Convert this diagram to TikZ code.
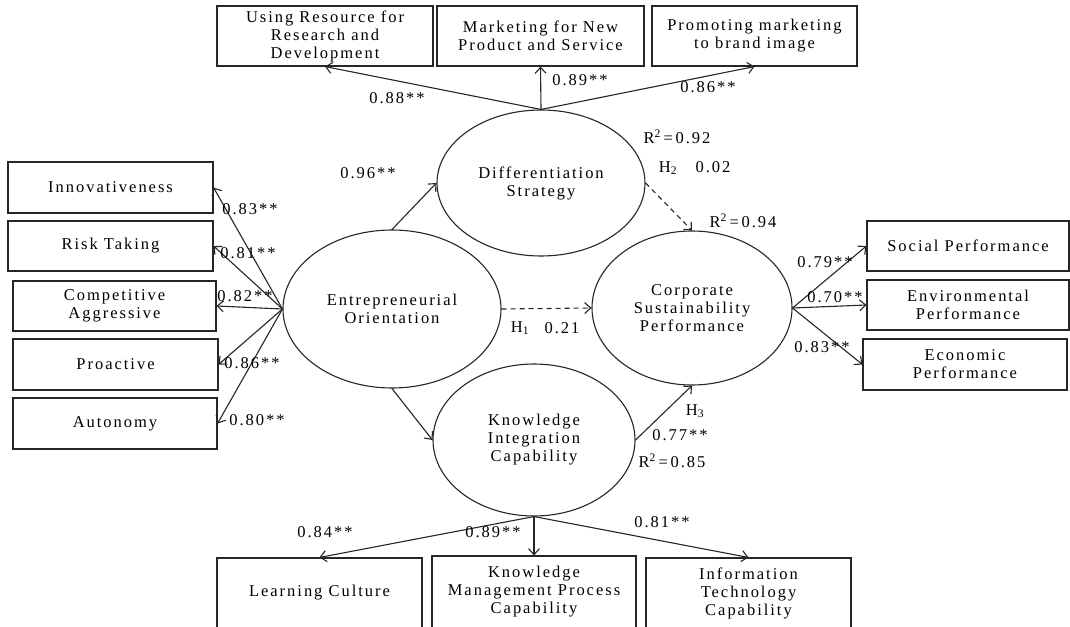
\documentclass[tikz,border=0pt]{standalone}
\usepackage{fontspec}
\setmainfont{Liberation Serif}[LetterSpace=12]
\usetikzlibrary{shapes.geometric,arrows.meta}
\begin{document}
\begin{tikzpicture}[x=1pt,y=-1pt,
  font=\fontsize{16.5pt}{18pt}\selectfont,
  box/.style={draw=black!85, line width=1.1pt, rectangle, align=center, inner sep=0pt},
  lat/.style={draw=black!85, line width=1.1pt, ellipse, align=center, inner sep=0pt},
  lab/.style={inner sep=0pt},
  arr/.style={draw=black!85, line width=1.1pt, -{Straight Barb[length=6pt,width=11pt]}},
  dsh/.style={arr, dash pattern=on 5pt off 4pt}]
\useasboundingbox (0,0) rectangle (1070,626);
\fill[white] (0,0) rectangle (1070,626);
\clip (0,0) rectangle (1070,626);
% latent variables
\node[lat, minimum width=208, minimum height=146] (diff) at (541,183) {Differentiation\\Strategy};
\node[lat, minimum width=218, minimum height=158] (eo) at (392,309) {Entrepreneurial\\Orientation};
\node[lat, minimum width=200, minimum height=154] (csp) at (692,308) {Corporate\\Sustainability\\Performance};
\node[lat, minimum width=202, minimum height=152] (kic) at (534,440) {Knowledge\\Integration\\Capability};
% top boxes
\node[box, minimum width=216, minimum height=60] (ur) at (325,36) {Using Resource for\\Research and\\Development};
\node[box, minimum width=207, minimum height=60] (mk) at (540.5,36) {Marketing for New\\Product and Service};
\node[box, minimum width=205, minimum height=60] (pm) at (754.5,36) {Promoting marketing\\to brand image};
% left boxes
\node[box, minimum width=205, minimum height=51] (inn) at (110.5,187.5) {Innovativeness};
\node[box, minimum width=205, minimum height=50] (risk) at (110.5,246) {Risk Taking};
\node[box, minimum width=203, minimum height=50] (comp) at (114.5,306) {Competitive\\Aggressive};
\node[box, minimum width=205, minimum height=51] (pro) at (115.5,364.5) {Proactive};
\node[box, minimum width=204, minimum height=51] (aut) at (115,423.5) {Autonomy};
% right boxes
\node[box, minimum width=202, minimum height=50] (soc) at (968,246) {Social Performance};
\node[box, minimum width=202, minimum height=50] (env) at (968,305) {Environmental\\Performance};
\node[box, minimum width=204, minimum height=51] (eco) at (965,364.5) {Economic\\Performance};
% bottom boxes
\node[box, minimum width=205, minimum height=70] (lc) at (319.5,593) {Learning Culture};
\node[box, minimum width=204, minimum height=72] (km) at (534,592) {Knowledge\\Management Process\\Capability};
\node[box, minimum width=205, minimum height=70] (it) at (748.5,593) {Information\\Technology\\Capability};
% connectors
\draw[arr] (diff.north) -- (ur.south);
\draw[arr] (diff.north) -- (mk.south);
\draw[arr] (diff.north) -- (pm.south);
\draw[arr] (eo.west) -- (inn.east);
\draw[arr] (eo.west) -- (risk.east);
\draw[arr] (eo.west) -- (comp.east);
\draw[arr] (eo.west) -- (pro.east);
\draw[arr] (eo.west) -- (aut.east);
\draw[arr] (csp.east) -- (soc.west);
\draw[arr] (csp.east) -- (env.west);
\draw[arr] (csp.east) -- (eco.west);
\draw[arr] (kic.south) -- (lc.north);
\draw[arr] (kic.south) -- (km.north);
\draw[arr] (kic.south) -- (it.north);
\draw[arr] (eo.north) -- (diff.west);
\draw[arr] (eo.south) -- (kic.west);
\draw[dsh] (eo.east) -- (csp.west);
\draw[dsh] (diff.east) -- (csp.north);
\draw[arr] (kic.east) -- (csp.south);
% labels
\node[lab] (l1) at (397,98) {0.88**};
\node[lab] (l2) at (580,80) {0.89**};
\node[lab] (l3) at (708,87) {0.86**};
\node[lab] (l4) at (677,137) {R\textsuperscript{2}\,=\,0.92};
\node[lab] (l5) at (668,168) {H\textsubscript{2}};
\node[lab] (l6) at (713,167) {0.02};
\node[lab] (l7) at (743,221) {R\textsuperscript{2}\,=\,0.94};
\node[lab] (l8) at (368,173) {0.96**};
\node[lab] (l9) at (250,209) {0.83**};
\node[lab] (l10) at (248,253) {0.81**};
\node[lab] (l11) at (245,296) {0.82**};
\node[lab] (l12) at (252,363) {0.86**};
\node[lab] (l13) at (257,420) {0.80**};
\node[lab] (l14) at (520,328) {H\textsubscript{1}};
\node[lab] (l15) at (562,328) {0.21};
\node[lab] (l16) at (825,262) {0.79**};
\node[lab] (l17) at (835,297) {0.70**};
\node[lab] (l18) at (822,347) {0.83**};
\node[lab] (l19) at (695,411) {H\textsubscript{3}};
\node[lab] (l20) at (680,435) {0.77**};
\node[lab] (l21) at (672,461) {R\textsuperscript{2}\,=\,0.85};
\node[lab] (l22) at (325,532) {0.84**};
\node[lab] (l23) at (493,532) {0.89**};
\node[lab] (l24) at (662,522) {0.81**};
\end{tikzpicture}
\end{document}
